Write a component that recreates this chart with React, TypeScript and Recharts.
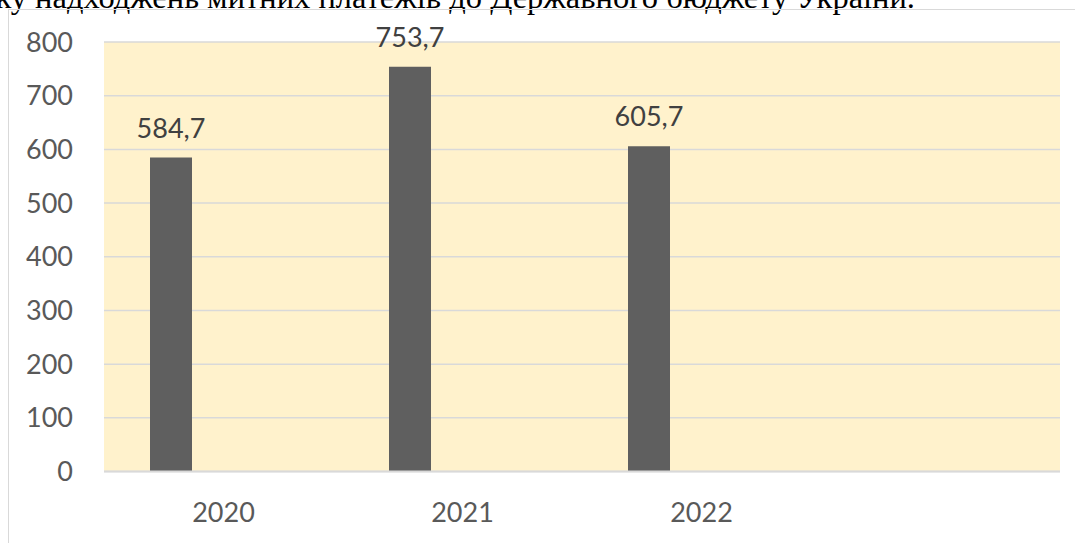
import { BarChart, Bar, XAxis, YAxis, CartesianGrid, LabelList } from 'recharts';

const years = ['2020', '2021', '2022', ''];
const customsRevenue = [584.7, 753.7, 605.7, null];
const emptySeries = [null, null, null, null];
const yTicks = [0, 100, 200, 300, 400, 500, 600, 700, 800];

const chartData = years.map((year, i) => ({
  year,
  value: customsRevenue[i],
  extra: emptySeries[i],
}));

const FONT = 'Lato, "Open Sans", sans-serif';
const formatComma = (v: unknown) => (typeof v === 'number' ? v.toFixed(1).replace('.', ',') : '');

export default function App() {
  return (
    <div
      style={{
        position: 'absolute',
        left: 0,
        top: 0,
        width: 1075,
        height: 543,
        overflow: 'hidden',
        background: '#fff',
      }}
    >
      {/* caption line cut off by the top edge */}
      <div
        style={{
          position: 'absolute',
          right: 160,
          top: -19,
          textAlign: 'right',
          whiteSpace: 'nowrap',
          fontFamily: '"Liberation Serif", "Times New Roman", serif',
          fontSize: 32.5,
          lineHeight: '32px',
          color: '#000',
        }}
      >
        Динаміку надходжень митних платежів до Державного бюджету України.
      </div>
      {/* chart frame, only left and top edges are in view */}
      <div
        style={{
          position: 'absolute',
          left: 8,
          top: 9,
          width: 1200,
          height: 700,
          borderLeft: '1.5px solid #D9D9D9',
          borderTop: '1.5px solid #D9D9D9',
        }}
      />
      <div style={{ position: 'absolute', left: 0, top: 0 }}>
        <BarChart
          width={1075}
          height={543}
          data={chartData}
          margin={{ top: 42, right: 15, left: 44, bottom: 31.5 }}
          barGap={63}
        >
          <CartesianGrid vertical={false} stroke="#D9D9D9" strokeWidth={1.5} fill="#FFF2CC" />
          <XAxis
            dataKey="year"
            height={40}
            tickLine={false}
            tickSize={0}
            tickMargin={31.5}
            axisLine={{ stroke: '#D9D9D9', strokeWidth: 2 }}
            tick={{ fill: '#595959', fontSize: 27, fontFamily: FONT }}
            interval={0}
          />
          <YAxis
            width={60}
            domain={[0, 800]}
            ticks={yTicks}
            tickLine={false}
            axisLine={false}
            tickSize={0}
            tickMargin={31}
            tick={{ fill: '#595959', fontSize: 27, fontFamily: FONT }}
          />
          <Bar dataKey="value" fill="#5F5F5F" barSize={42} isAnimationActive={false}>
            <LabelList
              dataKey="value"
              position="top"
              offset={20}
              formatter={formatComma}
              style={{ fill: '#404040', fontSize: 27, fontFamily: FONT }}
            />
          </Bar>
          <Bar dataKey="extra" fill="#A5A5A5" barSize={42} isAnimationActive={false} />
        </BarChart>
      </div>
    </div>
  );
}
